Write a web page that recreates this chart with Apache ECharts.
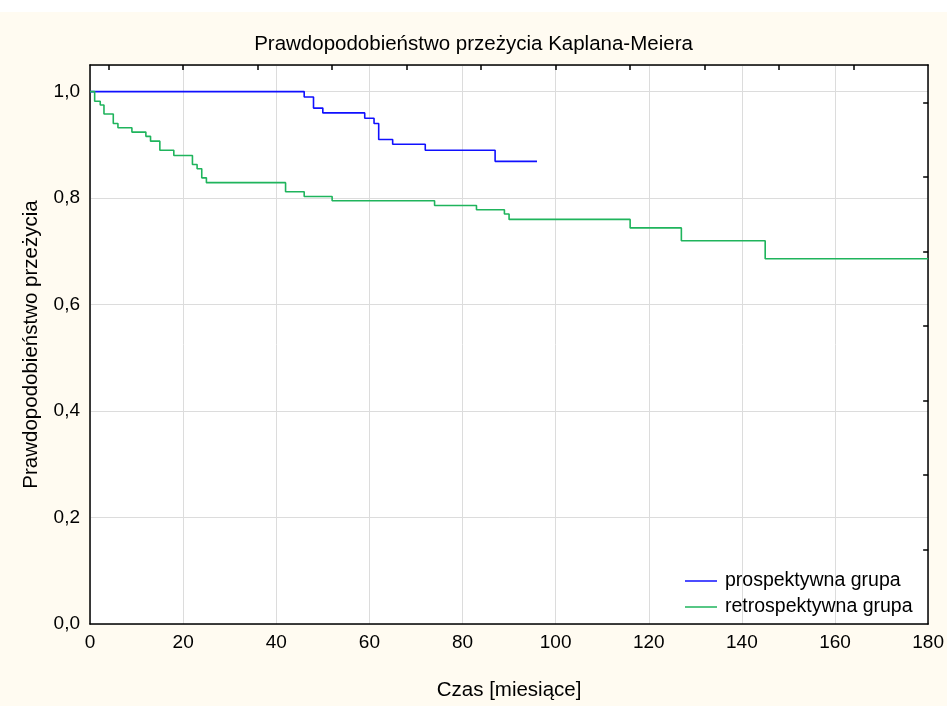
<!DOCTYPE html>
<html>
<head>
<meta charset="utf-8">
<script src="https://cdn.jsdelivr.net/npm/echarts@6/dist/echarts.min.js"></script>
<style>
  html, body { margin: 0; padding: 0; background: #fff; }
  #chart { width: 947px; height: 706px; }
</style>
</head>
<body>
<div id="chart"></div>
<script>
// czas [miesiące] i prawdopodobieństwo przeżycia
const prospTimes = [0, 46, 48, 50, 59, 61, 62, 65, 72, 87, 96]
const prospSurv = [1.0, 0.99, 0.969, 0.96, 0.95, 0.94, 0.91, 0.901, 0.89, 0.869, 0.869]

const retroTimes = [0, 1, 2.2, 3, 5, 6, 9, 12, 13, 15, 18, 22, 23, 24, 25, 42, 46, 52, 74, 83, 89, 90, 116, 127, 145, 180]
const retroSurv = [1.0, 0.982, 0.975, 0.958, 0.94, 0.932, 0.924, 0.916, 0.907, 0.89, 0.88, 0.863, 0.855, 0.838, 0.829,
  0.812, 0.803, 0.795, 0.786, 0.778, 0.77, 0.76, 0.744, 0.72, 0.686, 0.686]

const topTicks = [4, 20, 36, 52, 68, 84, 100, 116, 132, 148, 164]
const rightTicks = [0.14, 0.28, 0.42, 0.56, 0.70, 0.84, 0.98]

const fontFamily = 'Liberation Sans, Arial, sans-serif'
const comma = v => v.toFixed(1).replace('.', ',')
const pairs = (xs, ys) => xs.map((x, i) => [x, ys[i]])

const chart = echarts.init(document.getElementById('chart'))

chart.setOption({
  backgroundColor: '#fffbf1',
  animation: false,
  graphic: [{
    type: 'rect',
    shape: { x: 0, y: 0, width: 947, height: 12 },
    style: { fill: '#ffffff' },
    silent: true
  }],
  title: {
    text: 'Prawdopodobieństwo przeżycia Kaplana-Meiera',
    left: 'center',
    top: 29,
    textStyle: { fontFamily, fontSize: 20.5, fontWeight: 'normal', color: '#000' }
  },
  grid: {
    left: 90,
    right: 17,
    top: 65,
    bottom: 73,
    show: true,
    backgroundColor: '#fff',
    borderWidth: 0
  },
  legend: {
    orient: 'vertical',
    left: 680,
    top: 566,
    icon: 'rect',
    itemWidth: 32,
    itemHeight: 1.5,
    itemGap: 6,
    textStyle: { fontFamily, fontSize: 19.5, color: '#000', padding: [0, 0, 0, 3] },
    data: ['prospektywna grupa', 'retrospektywna grupa']
  },
  xAxis: [{
    type: 'value',
    min: 0,
    max: 180,
    interval: 20,
    name: 'Czas [miesiące]',
    nameLocation: 'middle',
    nameGap: 56,
    nameTextStyle: { fontFamily, fontSize: 20.5, color: '#000' },
    axisLine: { onZero: false, lineStyle: { color: '#000', width: 1.5 } },
    axisTick: { show: false },
    axisLabel: { fontFamily, fontSize: 19, color: '#000', margin: 9 },
    splitLine: { show: true, lineStyle: { color: '#dcdcdc' } }
  }, {
    type: 'value',
    position: 'top',
    min: 0,
    max: 180,
    axisLine: { show: true, onZero: false, lineStyle: { color: '#000', width: 1.5 } },
    axisTick: { show: true, inside: true, length: 5, customValues: topTicks, lineStyle: { color: '#000', width: 1.5 } },
    axisLabel: { show: false },
    splitLine: { show: false }
  }],
  yAxis: [{
    type: 'value',
    min: 0,
    max: 1.05,
    interval: 0.2,
    name: 'Prawdopodobieństwo przeżycia',
    nameLocation: 'middle',
    nameGap: 48,
    nameTextStyle: { fontFamily, fontSize: 20.5, color: '#000' },
    axisLine: { show: true, onZero: false, lineStyle: { color: '#000', width: 1.5 } },
    axisTick: { show: false },
    axisLabel: { fontFamily, fontSize: 19, color: '#000', margin: 10, formatter: comma, showMaxLabel: false },
    splitLine: { show: true, lineStyle: { color: '#dcdcdc' } }
  }, {
    type: 'value',
    position: 'right',
    min: 0,
    max: 1.05,
    axisLine: { show: true, onZero: false, lineStyle: { color: '#000', width: 1.5 } },
    axisTick: { show: true, inside: true, length: 5, customValues: rightTicks, lineStyle: { color: '#000', width: 1.5 } },
    axisLabel: { show: false },
    splitLine: { show: false }
  }],
  series: [{
    name: 'prospektywna grupa',
    type: 'line',
    step: 'end',
    symbol: 'none',
    lineStyle: { color: '#1010ff', width: 1.6 },
    itemStyle: { color: '#1010ff' },
    data: pairs(prospTimes, prospSurv)
  }, {
    name: 'retrospektywna grupa',
    type: 'line',
    step: 'end',
    symbol: 'none',
    lineStyle: { color: '#1fb45c', width: 1.6 },
    itemStyle: { color: '#1fb45c' },
    data: pairs(retroTimes, retroSurv)
  }]
})
</script>
</body>
</html>
